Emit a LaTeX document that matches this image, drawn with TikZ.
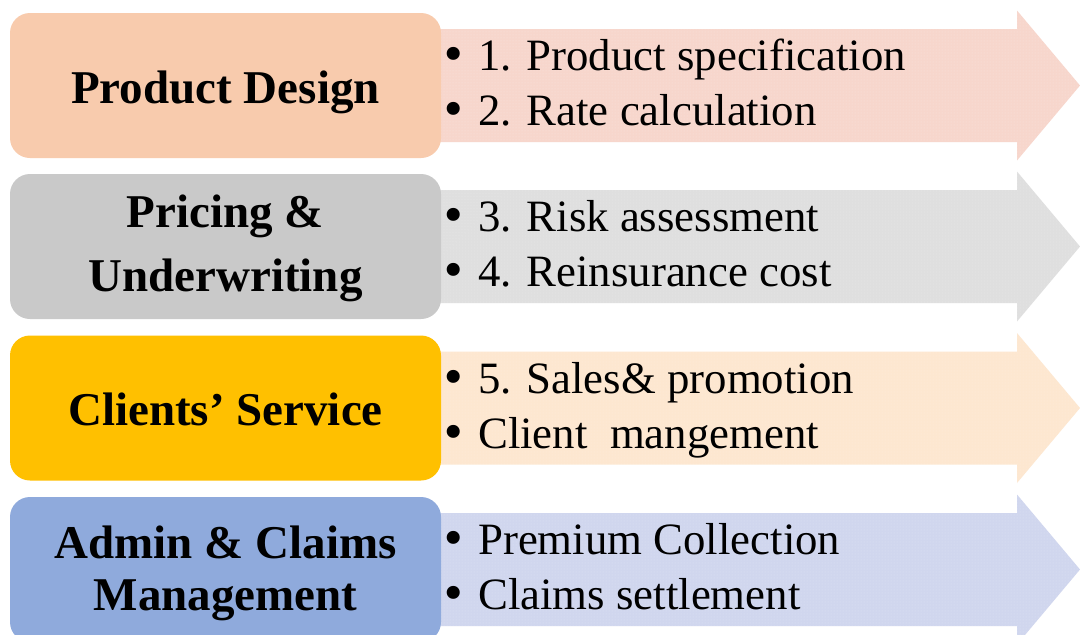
\documentclass[tikz,border=0pt]{standalone}
\usepackage{fontspec}
\setmainfont{Liberation Serif}
\newfontfamily\bulfont{DejaVu Sans}
\usetikzlibrary{patterns}
\definecolor{boxA}{HTML}{F8CBAD}
\definecolor{arrA}{HTML}{F7D6CC}
\definecolor{boxB}{HTML}{C9C9C9}
\definecolor{arrB}{HTML}{DFDFDF}
\definecolor{boxC}{HTML}{FFC000}
\definecolor{arrC}{HTML}{FDE7D0}
\definecolor{boxD}{HTML}{8FAADC}
\definecolor{arrD}{HTML}{D0D6EE}
\tikzset{
  titlebox/.style={rounded corners=20pt, inner sep=0pt, minimum width=431pt, minimum height=145pt},
  titletext/.style={anchor=base, inner sep=0pt, font=\fontsize{47}{47}\selectfont\bfseries},
  itemtext/.style={anchor=base west, inner sep=0pt, font=\fontsize{44.8}{44.8}\selectfont},
  dotted fill/.style={pattern=dots, pattern color=white}
}
\newcommand{\bul}{\makebox[35pt][l]{\kern-3pt{\bulfont •}}}
\newcommand{\rowarrow}[2]{%
  \fill[#2] (430,#1-56.5) -- (1017,#1-56.5) -- (1017,#1-75) -- (1080,#1) -- (1017,#1+75) -- (1017,#1+56.5) -- (430,#1+56.5) -- cycle;
  \fill[dotted fill, opacity=0.35] (430,#1-56.5) -- (1017,#1-56.5) -- (1017,#1-75) -- (1080,#1) -- (1017,#1+75) -- (1017,#1+56.5) -- (430,#1+56.5) -- cycle;
}
\begin{document}
\begin{tikzpicture}[x=1pt,y=-1pt]
\clip (0,0) rectangle (1080,635);
\fill[white] (0,0) rectangle (1080,635);
% arrows
\rowarrow{85.5}{arrA}
\rowarrow{246.5}{arrB}
\rowarrow{408}{arrC}
\rowarrow{569.5}{arrD}
% boxes
\node[titlebox, fill=boxA] (bA) at (225.5,85.5) {};
\node[titlebox, fill=boxB] (bB) at (225.5,246.5) {};
\node[titlebox, fill=boxC] (bC) at (225.5,408) {};
\node[titlebox, fill=boxD] (bD) at (225.5,569.5) {};
% titles
\node[titletext] (tA) at (225.5,103) {Product Design};
\node[titletext] (tB1) at (225.5,227.5) {Pricing \&};
\node[titletext] (tB2) at (225.5,291.5) {Underwriting};
\node[titletext] (tC) at (225.5,425.5) {Clients’ Service};
\node[titletext] (tD1) at (225.5,558.5) {Admin \& Claims};
\node[titletext] (tD2) at (225.5,610.5) {Management};
% items
\node[itemtext] (iA1) at (443,70.5) {\bul 1. Product specification};
\node[itemtext] (iA2) at (443,125.5) {\bul 2. Rate calculation};
\node[itemtext] (iB1) at (443,231.5) {\bul 3. Risk assessment};
\node[itemtext] (iB2) at (443,286.5) {\bul 4. Reinsurance cost};
\node[itemtext] (iC1) at (443,393) {\bul 5. Sales\& promotion};
\node[itemtext] (iC2) at (443,448) {\bul Client\ \ mangement};
\node[itemtext] (iD1) at (443,554.5) {\bul Premium Collection};
\node[itemtext] (iD2) at (443,609.5) {\bul Claims settlement};
\end{tikzpicture}
\end{document}
